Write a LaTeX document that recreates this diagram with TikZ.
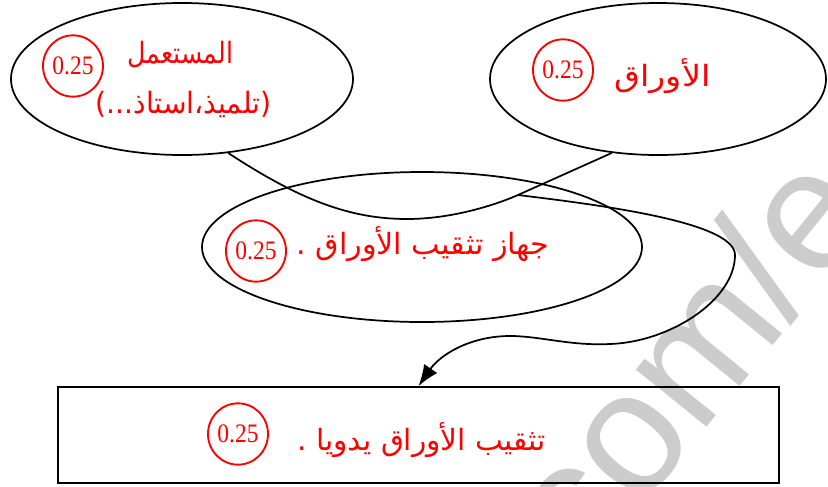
\documentclass[tikz,border=0pt]{standalone}
\usepackage{fontspec}
\setmainfont{Liberation Serif}
\newfontfamily\numfont[FakeStretch=0.88]{Liberation Serif}
\newfontfamily\arabicfont[Script=Arabic]{DejaVu Sans}
\newfontfamily\wmfont{Liberation Sans}
\TeXXeTstate=1
\usetikzlibrary{shapes.geometric,arrows.meta}
\definecolor{wmgray}{RGB}{204,204,204}
\begin{document}
\begin{tikzpicture}[x=0.75pt,y=-0.75pt,
  bigell/.style={draw=black,line width=1.3pt,ellipse,inner sep=0pt},
  score/.style={draw=red,line width=1.4pt,ellipse,inner sep=0pt,minimum width=45pt,minimum height=46pt,text=red,font=\numfont\fontsize{20}{22}\selectfont},
  artext/.style={text=red,font=\arabicfont\fontsize{22}{26}\selectfont,inner sep=0pt},
  link/.style={draw=black,line width=1.3pt}]
\useasboundingbox (0,0) rectangle (828,486);
% watermark
\begin{scope}
\clip (0,0) rectangle (828,486);
\node[text=wmgray,font=\wmfont\fontsize{129}{129}\selectfont,rotate=51,anchor=base west,inner sep=0pt] (wm) at (585,578) {com/e};
\end{scope}
% shapes
\node[bigell,minimum width=256.5pt,minimum height=114pt] (E1) at (182,79) {};
\node[bigell,minimum width=252pt,minimum height=114pt] (E2) at (658,79) {};
\node[bigell,minimum width=330pt,minimum height=112.5pt] (E3) at (422,247) {};
\node[draw=black,line width=1.3pt,minimum width=540.75pt,minimum height=72pt,inner sep=0pt] (R) at (418.5,435) {};
% texts
\node[artext] (t1) at (180.5,55) {\scalebox{0.86}[1]{\beginR المستعمل\endR}};
\node[artext] (t2) at (183.5,105) {\scalebox{0.96}[1]{\beginR (تلميذ،استاذ...)\endR}};
\node[artext] (t3) at (662.5,76) {\scalebox{1.14}[1]{\beginR الأوراق\endR}};
\node[artext] (t4) at (423,244) {\scalebox{1.03}[1]{\beginR جهاز تثقيب الأوراق .\endR}};
\node[artext] (t5) at (421.5,440) {\scalebox{1.01}[1]{\beginR تثقيب الأوراق يدويا .\endR}};
\node[score] (s1) at (73,66) {0.25};
\node[score] (s2) at (563,70) {0.25};
\node[score] (s3) at (256,251) {0.25};
\node[score] (s4) at (238,434) {0.25};
% connectors
\coordinate (J) at (518,195);
\draw[link] (E1.-58) .. controls (300,200) and (350,219) .. (407,219)
  .. controls (455,219) and (500,203) .. (J) -- (E2.-122);
\draw[link,-{Latex[length=16pt,width=12pt]}] (J) .. controls (600,205) and (735,222) .. (735,255)
  .. controls (735,300) and (670,342) .. (610,344)
  .. controls (570,346) and (540,336) .. (510,336)
  .. controls (470,336) and (440,355) .. (R.north);
\end{tikzpicture}
\end{document}
